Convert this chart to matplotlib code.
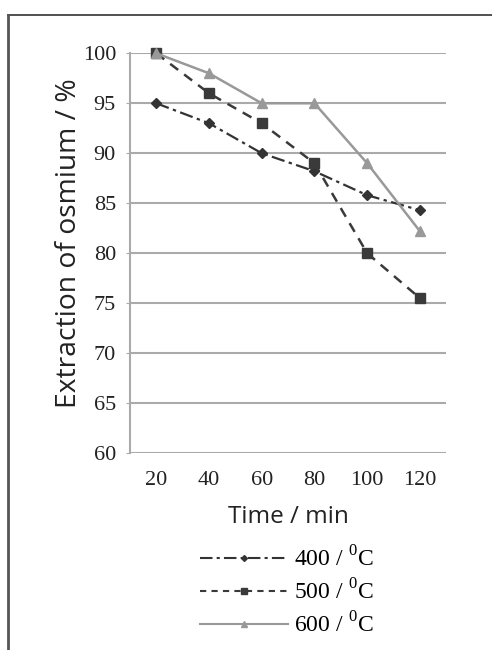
import numpy as np
import matplotlib
matplotlib.use('Agg')
from matplotlib import pyplot as plt
from matplotlib.lines import Line2D

plt.rcParams['mathtext.fontset'] = 'custom'
plt.rcParams['mathtext.rm'] = 'Liberation Serif'

# data
times = ['20', '40', '60', '80', '100', '120']
ext_400 = [95, 93, 90, 88.2, 85.8, 84.3]
ext_500 = [100, 96, 93, 89, 80, 75.5]
ext_600 = [100, 98, 95, 95, 89, 82.2]
labels = ['400 / $^\\mathrm{0}$C', '500 / $^\\mathrm{0}$C', '600 / $^\\mathrm{0}$C']

fig = plt.figure(figsize=(4.92, 6.5), dpi=100)
ax = fig.add_axes([0.264, 0.303, 0.643, 0.615])

x = np.arange(len(times))
l1, = ax.plot(x, ext_400, color='#333333', ls=(0, (6, 2, 1.5, 2)), lw=1.6,
              marker='D', ms=5, clip_on=False, zorder=3)
l2, = ax.plot(x, ext_500, color='#3a3a3a', ls=(0, (4, 3)), lw=1.8,
              marker='s', ms=7, clip_on=False, zorder=3)
l3, = ax.plot(x, ext_600, color='#999999', ls='-', lw=1.8,
              marker='^', ms=7, clip_on=False, zorder=3)

ax.set_xlim(-0.5, 5.5)
ax.set_ylim(60, 100)
ax.set_yticks(np.arange(60, 101, 5))
ax.set_xticks(x)
ax.set_xticklabels(times)
ax.grid(axis='y', color='#aaaaaa', lw=1.5)
ax.set_axisbelow(True)
for s in ['top', 'right', 'bottom']:
    ax.spines[s].set_visible(False)
ax.spines['left'].set_color('#aaaaaa')
ax.spines['left'].set_linewidth(1.5)
ax.tick_params(axis='y', length=3, color='#aaaaaa', pad=7)
ax.tick_params(axis='x', length=0, pad=13)
for t in ax.get_xticklabels() + ax.get_yticklabels():
    t.set_fontfamily('Liberation Serif')
    t.set_fontsize(16)
    t.set_color('#222222')

ax.set_ylabel('Extraction of osmium / %', fontsize=20.3, family='Open Sans',
              color='#222222')
ax.yaxis.set_label_coords(-0.149, 0.525)
ax.set_xlabel('Time / min', fontsize=17.5, family='Open Sans',
              color='#222222', labelpad=11)

# legend with small markers
h1 = Line2D([], [], color='#333333', ls=(0, (6, 2, 1.5, 2)), lw=1.5, marker='D', ms=3)
h2 = Line2D([], [], color='#3a3a3a', ls=(0, (3, 2.5)), lw=1.5, marker='s', ms=5)
h3 = Line2D([], [], color='#999999', ls='-', lw=1.5, marker='^', ms=4)
fig.legend([h1, h2, h3], labels, loc='upper left', bbox_to_anchor=(0.364, 0.193),
           frameon=False, handlelength=3.7, handletextpad=0.25, labelspacing=0.33,
           prop={'family': 'Liberation Serif', 'size': 17})

# outer frame (top and left)
fig.add_artist(Line2D([8 / 492, 1.0], [1 - 15 / 650, 1 - 15 / 650],
                      color='#333333', lw=1.2, transform=fig.transFigure))
fig.add_artist(Line2D([8 / 492, 8 / 492], [0, 1 - 15 / 650],
                      color='#555555', lw=2.0, transform=fig.transFigure))

fig.savefig('out.png', dpi=100)
